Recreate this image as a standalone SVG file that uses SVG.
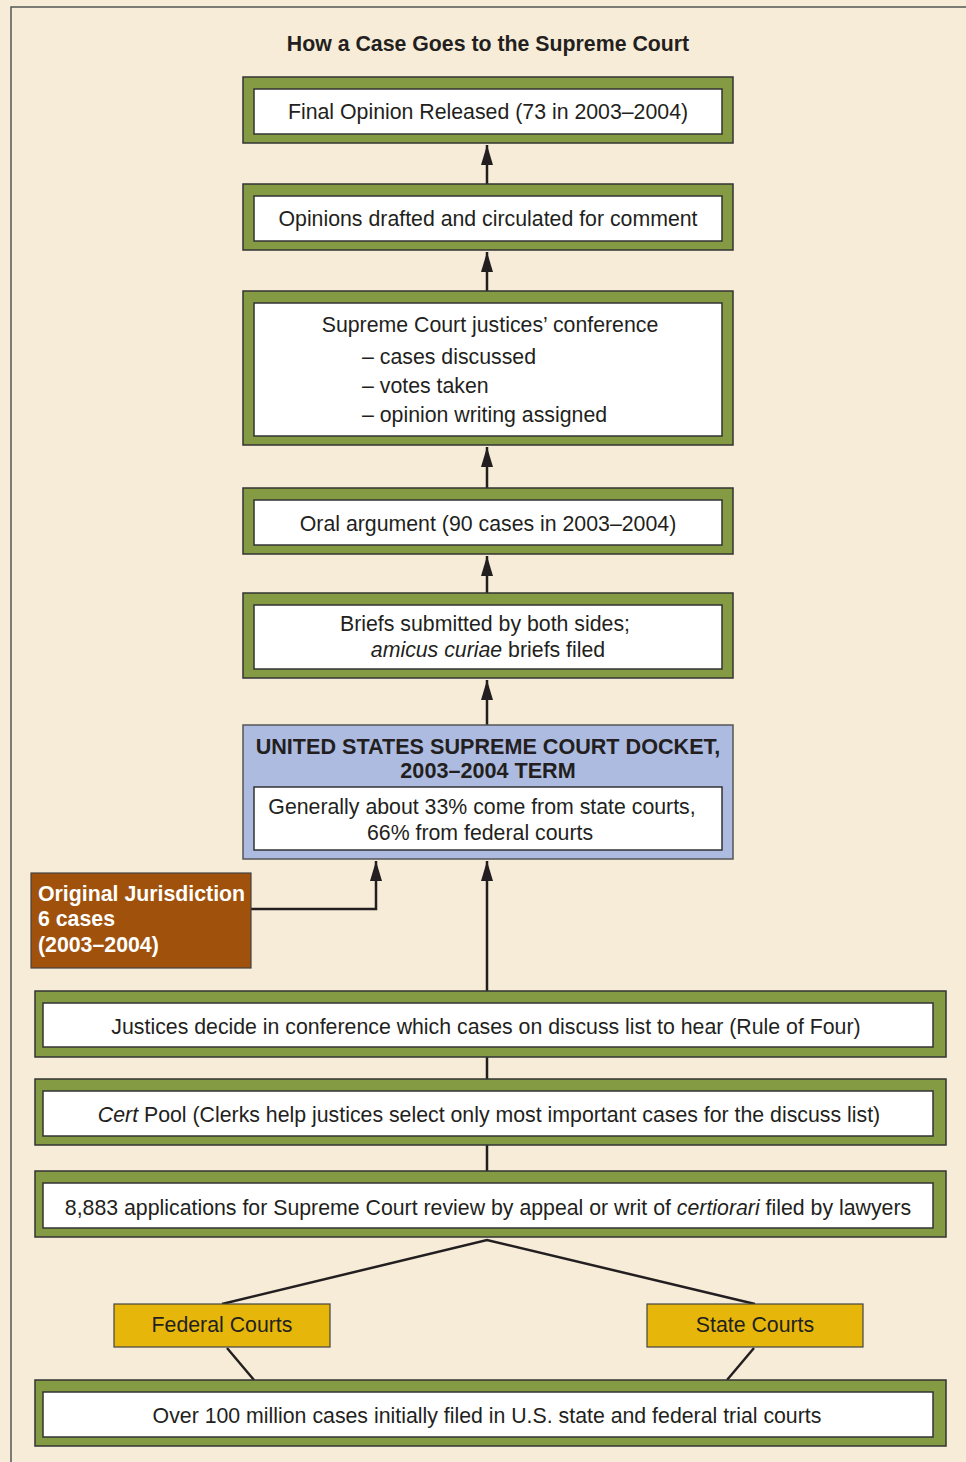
<svg xmlns="http://www.w3.org/2000/svg" width="966" height="1462" viewBox="0 0 966 1462">
<style>
text{font-family:"Liberation Sans",Arial,sans-serif;font-size:21.3px;fill:#231f20}
.c{text-anchor:middle}
.b{font-weight:bold}
.h{font-size:21.6px}
.w{fill:#ffffff}
.g{fill:#849b44;stroke:#333;stroke-width:1.5}
.i{fill:#ffffff;stroke:#333;stroke-width:1.5}
.bl{fill:#adbbe0;stroke:#555;stroke-width:1.5}
.br{fill:#a0520c;stroke:#444;stroke-width:1.2}
.y{fill:#e6b70a;stroke:#444;stroke-width:1.2}
.ln{fill:none;stroke:#231f20;stroke-width:2.5}
</style>
<defs>
<marker id="ah" markerUnits="userSpaceOnUse" viewBox="0 0 20 12" refX="20" refY="6" markerWidth="20" markerHeight="12" orient="auto">
<path d="M0,0 L20,6 L0,12 z" fill="#231f20"/>
</marker>
</defs>
<rect x="0" y="0" width="966" height="1462" fill="#f7ecd7"/>
<rect x="11" y="7" width="970" height="1470" fill="#f7ecd7" stroke="#555" stroke-width="1.5"/>
<text class="c b" x="488" y="51">How a Case Goes to the Supreme Court</text>

<g id="connectors">
<path class="ln" d="M487,184 V145" marker-end="url(#ah)"/>
<path class="ln" d="M487,291 V252" marker-end="url(#ah)"/>
<path class="ln" d="M487,488 V447" marker-end="url(#ah)"/>
<path class="ln" d="M487,593 V556" marker-end="url(#ah)"/>
<path class="ln" d="M487,725 V680" marker-end="url(#ah)"/>
<path class="ln" d="M487,991 V861" marker-end="url(#ah)"/>
<path class="ln" d="M251,909 H376 V861" marker-end="url(#ah)"/>
<path class="ln" d="M487,1079 V1057"/>
<path class="ln" d="M487,1171 V1145"/>
<path class="ln" d="M222,1304 L487,1240 L755,1304"/>
<path class="ln" d="M227,1348 L254,1380"/>
<path class="ln" d="M754,1348 L727,1380"/>
</g>

<g id="final-opinion">
<rect class="g" x="243" y="77" width="490" height="66"/>
<rect class="i" x="254" y="89" width="468" height="45"/>
<text class="c" x="488" y="119">Final Opinion Released (73 in 2003–2004)</text>
</g>

<g id="opinions-drafted">
<rect class="g" x="243" y="184" width="490" height="66"/>
<rect class="i" x="254" y="196" width="468" height="45"/>
<text class="c" x="488" y="226">Opinions drafted and circulated for comment</text>
</g>

<g id="conference">
<rect class="g" x="243" y="291" width="490" height="154"/>
<rect class="i" x="254" y="303" width="468" height="133"/>
<text class="c" x="490" y="332">Supreme Court justices’ conference</text>
<text x="362" y="364">– cases discussed</text>
<text x="362" y="393">– votes taken</text>
<text x="362" y="422">– opinion writing assigned</text>
</g>

<g id="oral-argument">
<rect class="g" x="243" y="488" width="490" height="66"/>
<rect class="i" x="254" y="500" width="468" height="45"/>
<text class="c" x="488" y="531">Oral argument (90 cases in 2003–2004)</text>
</g>

<g id="briefs">
<rect class="g" x="243" y="593" width="490" height="85"/>
<rect class="i" x="254" y="605" width="468" height="64"/>
<text class="c" x="485" y="631">Briefs submitted by both sides;</text>
<text class="c" x="488" y="657"><tspan font-style="italic">amicus curiae</tspan> briefs filed</text>
</g>

<g id="docket">
<rect class="bl" x="243" y="725" width="490" height="134"/>
<text class="c b h" x="488" y="754">UNITED STATES SUPREME COURT DOCKET,</text>
<text class="c b h" x="488" y="778">2003–2004 TERM</text>
<rect class="i" x="254" y="787" width="468" height="63"/>
<text class="c" x="482" y="814">Generally about 33% come from state courts,</text>
<text class="c" x="480" y="840">66% from federal courts</text>
</g>

<g id="original-jurisdiction">
<rect class="br" x="31" y="873" width="220" height="95"/>
<text class="b w" x="38" y="901">Original Jurisdiction</text>
<text class="b w" x="38" y="926">6 cases</text>
<text class="b w" x="38" y="952">(2003–2004)</text>
</g>

<g id="justices-decide">
<rect class="g" x="35" y="991" width="911" height="66"/>
<rect class="i" x="43" y="1003" width="890" height="44"/>
<text class="c" x="486" y="1034">Justices decide in conference which cases on discuss list to hear (Rule of Four)</text>
</g>

<g id="cert-pool">
<rect class="g" x="35" y="1079" width="911" height="66"/>
<rect class="i" x="43" y="1091" width="890" height="45"/>
<text class="c" x="489" y="1122"><tspan font-style="italic">Cert</tspan> Pool (Clerks help justices select only most important cases for the discuss list)</text>
</g>

<g id="applications">
<rect class="g" x="35" y="1171" width="911" height="66"/>
<rect class="i" x="43" y="1183" width="890" height="45"/>
<text class="c" x="488" y="1215">8,883 applications for Supreme Court review by appeal or writ of <tspan font-style="italic">certiorari</tspan> filed by lawyers</text>
</g>

<g id="federal-courts">
<rect class="y" x="114" y="1304" width="216" height="43"/>
<text class="c" x="222" y="1332">Federal Courts</text>
</g>

<g id="state-courts">
<rect class="y" x="647" y="1304" width="216" height="43"/>
<text class="c" x="755" y="1332">State Courts</text>
</g>

<g id="trial-courts">
<rect class="g" x="35" y="1380" width="911" height="66"/>
<rect class="i" x="43" y="1392" width="890" height="45"/>
<text class="c" x="487" y="1423">Over 100 million cases initially filed in U.S. state and federal trial courts</text>
</g>
</svg>
